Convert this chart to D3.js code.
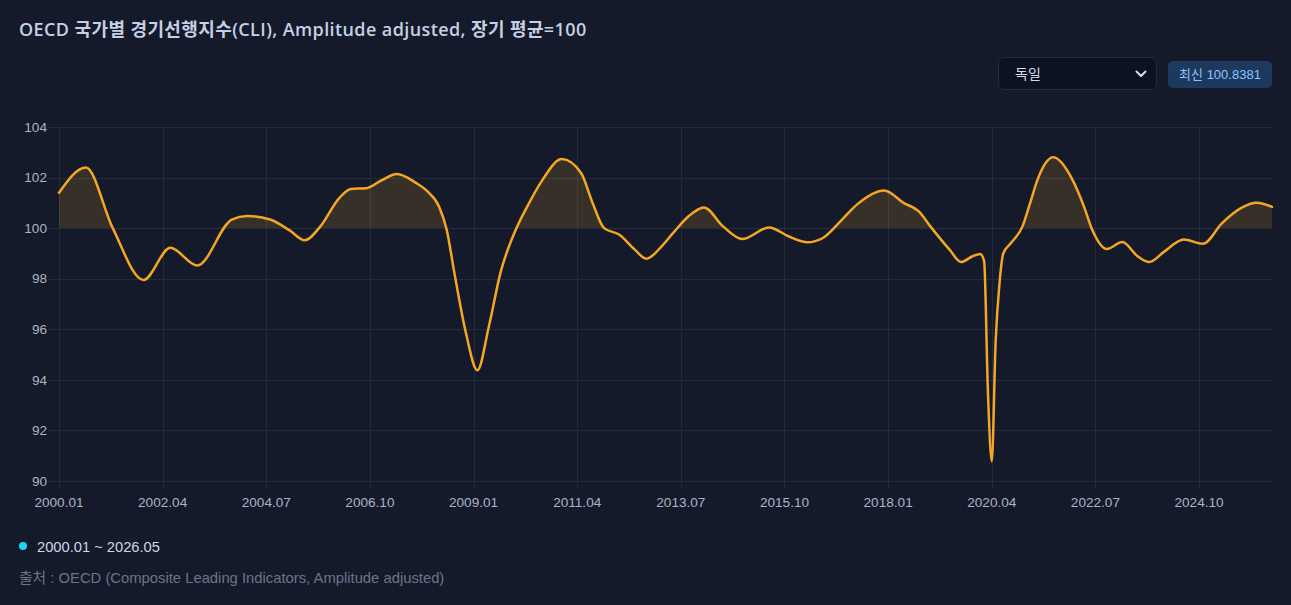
<!DOCTYPE html>
<html lang="ko">
<head>
<meta charset="utf-8">
<script src="https://cdn.jsdelivr.net/npm/d3@7"></script>
<style>
  html, body { margin: 0; padding: 0; background: #141a2a; }
  .wrap { position: relative; width: 1291px; height: 605px; overflow: hidden; }
  .title { position: absolute; left: 19px; top: 15px; font: 600 18px "Open Sans", "Noto Sans CJK KR", sans-serif; color: #c5d0e4; letter-spacing: 0.4px; }
  .sel { position: absolute; left: 998px; top: 57px; width: 159px; height: 33px; box-sizing: border-box;
         background: #0c1220; border: 1px solid #232c3c; border-radius: 6px;
         font: 14px "Noto Sans CJK KR", sans-serif; color: #d5dcea; line-height: 31px; padding-left: 16px; }
  .sel svg { position: absolute; right: 9px; top: 12px; }
  .badge { position: absolute; left: 1168px; top: 61px; width: 104px; height: 27px; box-sizing: border-box;
           background: #1d3a5e; border-radius: 5px; color: #8ec3ff;
           font: 13px "Liberation Sans", "Noto Sans CJK KR", sans-serif; line-height: 27px; text-align: center; }
  svg text { font-family: "Liberation Sans", Arial, sans-serif; }
</style>
</head>
<body>
<div class="wrap">
  <div class="title">OECD 국가별 경기선행지수(CLI), Amplitude adjusted, 장기 평균=100</div>
  <div class="sel">독일<svg width="12" height="9"><path d="M1.5 1.5 L6 6 L10.5 1.5" fill="none" stroke="#d5dcea" stroke-width="2" stroke-linecap="round" stroke-linejoin="round"/></svg></div>
  <div class="badge">최신 100.8381</div>
  <svg id="chart" width="1291" height="605" style="position:absolute;left:0;top:0;"></svg>
</div>
<script>
// key readings of the German CLI (month label, value)
const months = [
  '2000.01','2000.08','2001.03','2001.11','2002.06','2003.01','2003.10','2004.02','2004.08','2005.01',
  '2005.05','2005.09','2006.02','2006.05','2006.09','2007.01','2007.05','2007.10','2008.01','2008.04',
  '2008.06','2008.08','2008.11','2009.02','2009.05','2009.08','2009.12','2010.03','2010.07','2010.12',
  '2011.05','2011.08','2011.11','2012.03','2012.07','2012.10','2013.02','2013.05','2013.09','2014.01',
  '2014.06','2014.11','2015.06','2015.11','2016.04','2016.08','2017.01','2017.05','2017.12','2018.05',
  '2018.09','2018.12','2019.05','2019.08','2019.11','2020.01','2020.02','2020.03','2020.04','2020.05',
  '2020.06','2020.07','2020.09','2020.12','2021.02','2021.04','2021.08','2022.01','2022.04','2022.06',
  '2022.10','2023.02','2023.06','2023.09','2024.01','2024.06','2024.11','2025.04','2025.09','2026.01',
  '2026.05'
];
const cli = [
  101.40, 102.40, 100.00, 97.95, 99.22, 98.52, 100.34, 100.48, 100.34, 99.92,
  99.52, 100.05, 101.19, 101.55, 101.58, 101.89, 102.14, 101.79, 101.45, 100.86,
  99.94, 98.23, 95.86, 94.38, 96.12, 98.23, 99.94, 100.86, 101.92, 102.73,
  102.18, 101.00, 100.00, 99.74, 99.15, 98.79, 99.28, 99.81, 100.47, 100.82,
  100.07, 99.57, 100.03, 99.68, 99.44, 99.61, 100.34, 100.95, 101.49, 101.00,
  100.66, 100.07, 99.15, 98.66, 98.89, 98.98, 98.70, 93.50, 90.78, 95.50,
  97.80, 99.00, 99.41, 100.07, 101.00, 101.95, 102.80, 101.92, 100.86, 100.00,
  99.18, 99.45, 98.89, 98.66, 99.08, 99.55, 99.38, 100.20, 100.80, 101.00,
  100.8381
];
const xTicks = ['2000.01','2002.04','2004.07','2006.10','2009.01','2011.04','2013.07','2015.10','2018.01','2020.04','2022.07','2024.10'];
const yTicks = [90, 92, 94, 96, 98, 100, 102, 104];
const firstMonth = '2000.01';
const lastMonth = '2026.05';
const baseline = 100;

const idx = s => { const [yy, mm] = s.split('.').map(Number); return (yy - 2000) * 12 + (mm - 1); };
const data = months.map((m, i) => ({ i: idx(m), v: cli[i] }));

const svg = d3.select('#chart');
const plot = { left: 59, right: 1272, top: 127, bottom: 481 };

const x = d3.scaleLinear().domain([idx(firstMonth), idx(lastMonth)]).range([plot.left, plot.right]);
const y = d3.scaleLinear().domain([90, 104]).range([plot.bottom, plot.top]);

// grid
const grid = svg.append('g');
grid.selectAll('line.h').data(yTicks).join('line')
  .attr('x1', plot.left - 11).attr('x2', plot.right)
  .attr('y1', d => Math.round(y(d)) + 0.5).attr('y2', d => Math.round(y(d)) + 0.5)
  .attr('stroke', '#232c3d').attr('stroke-width', 1);
grid.selectAll('line.v').data(xTicks).join('line')
  .attr('x1', d => Math.round(x(idx(d))) + 0.5).attr('x2', d => Math.round(x(idx(d))) + 0.5)
  .attr('y1', plot.top).attr('y2', plot.bottom + 8)
  .attr('stroke', '#232c3d').attr('stroke-width', 1);

// tick labels
svg.append('g').selectAll('text').data(yTicks).join('text')
  .attr('x', plot.left - 12).attr('y', d => y(d)).attr('dy', '0.35em')
  .attr('text-anchor', 'end').attr('fill', '#aab4c6').style('font-size', '13.6px')
  .text(d => d);
svg.append('g').selectAll('text').data(xTicks).join('text')
  .attr('x', d => x(idx(d))).attr('y', plot.bottom + 21).attr('dy', '0.35em')
  .attr('text-anchor', 'middle').attr('fill', '#aab4c6').style('font-size', '13.6px')
  .text(d => d);

// area above baseline
svg.append('clipPath').attr('id', 'above')
  .append('rect').attr('x', plot.left).attr('y', 0).attr('width', plot.right - plot.left).attr('height', y(baseline));

const curve = d3.curveMonotoneX;
const area = d3.area().x(d => x(d.i)).y0(y(baseline)).y1(d => y(d.v)).curve(curve);
svg.append('path').datum(data)
  .attr('clip-path', 'url(#above)')
  .attr('d', area).attr('fill', '#f5a623').attr('fill-opacity', 0.16);

const line = d3.line().x(d => x(d.i)).y(d => y(d.v)).curve(curve);
svg.append('path').datum(data)
  .attr('d', line).attr('fill', 'none')
  .attr('stroke', '#f5a623').attr('stroke-width', 2.5)
  .attr('stroke-linejoin', 'round').attr('stroke-linecap', 'round');

// legend and source
svg.append('circle').attr('cx', 23).attr('cy', 546).attr('r', 4).attr('fill', '#22d3ee');
svg.append('text').attr('x', 37).attr('y', 547).attr('dy', '0.35em')
  .attr('fill', '#cfd7e5').style('font-size', '14.7px')
  .text(`${firstMonth} ~ ${lastMonth}`);
svg.append('text').attr('x', 19).attr('y', 578).attr('dy', '0.35em')
  .attr('fill', '#6b7588').style('font-size', '14.8px')
  .style('font-family', '"Liberation Sans", "Noto Sans CJK KR", sans-serif')
  .text('출처 : OECD (Composite Leading Indicators, Amplitude adjusted)');
</script>
</body>
</html>
